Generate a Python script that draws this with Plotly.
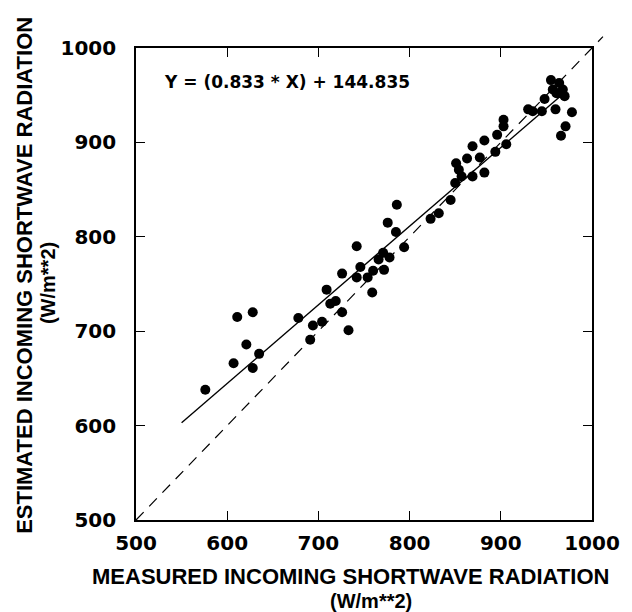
import plotly.graph_objects as go

# Measured (x) vs estimated (y) incoming shortwave radiation, W/m**2
measured = [576, 607, 611, 621, 628, 628, 635, 678, 691, 694, 704, 709, 713, 719,
            726, 726, 733, 742, 742, 746, 754, 759, 760, 766, 771, 772, 778, 776,
            785, 786, 794, 823, 832, 845, 850, 851, 854, 857, 863, 869, 869, 877,
            882, 882, 894, 896, 903, 903, 906, 930, 935, 945, 948, 955, 960, 961,
            964, 968, 970, 971, 966, 978, 963, 957]
estimated = [638, 666, 715, 686, 720, 661, 676, 714, 691, 706, 710, 744, 729, 732,
             720, 761, 701, 790, 757, 768, 757, 741, 764, 776, 783, 765, 778, 815,
             805, 834, 789, 819, 825, 839, 857, 878, 871, 864, 883, 896, 864, 884,
             868, 902, 890, 908, 924, 917, 898, 935, 933, 933, 946, 966, 935, 952,
             963, 956, 949, 917, 907, 932, 952, 956]

slope = 0.833
intercept = 144.835
fit_x = [550, 965]
fit_y = [slope * v + intercept for v in fit_x]

axis_range = [500, 1000]
tick_vals = [500, 600, 700, 800, 900, 1000]
identity_extent = [500, 1012]

fig = go.Figure()
fig.add_trace(go.Scatter(x=fit_x, y=fit_y, mode="lines",
                         line=dict(color="black", width=1.4), showlegend=False))
fig.add_trace(go.Scatter(x=measured, y=estimated, mode="markers",
                         marker=dict(color="black", size=10), showlegend=False))

span = axis_range[1] - axis_range[0]
p0 = (identity_extent[0] - axis_range[0]) / span
p1 = (identity_extent[1] - axis_range[0]) / span
fig.add_shape(type="line", xref="x domain", yref="y domain",
              x0=p0, y0=p0, x1=p1, y1=p1,
              line=dict(color="black", width=1.2, dash="11px,8px"))

axis_common = dict(range=axis_range, tickvals=tick_vals, showgrid=False, zeroline=False,
                   showline=True, linecolor="black", linewidth=1.6, mirror="ticks",
                   ticks="inside", ticklen=9, tickwidth=1.4, tickcolor="black",
                   tickfont=dict(family="DejaVu Sans", size=20, color="black", weight="bold"))

fig.update_layout(
    width=632, height=612,
    margin=dict(l=136, r=29, t=48, b=92),
    paper_bgcolor="white", plot_bgcolor="white",
    xaxis=dict(**axis_common, ticklabelstandoff=4),
    yaxis=dict(**axis_common, ticklabelstandoff=14),
    font=dict(family="Liberation Sans", color="black"),
)

title_font = dict(family="Liberation Sans", size=22, color="black", weight="bold")
sub_font = dict(family="Liberation Sans", size=20, color="black", weight="bold")

fig.add_annotation(text="MEASURED INCOMING SHORTWAVE RADIATION", xref="paper", yref="paper",
                   x=0.471, y=-0.119, xanchor="center", yanchor="middle",
                   showarrow=False, font=title_font)
fig.add_annotation(text="(W/m**2)", xref="paper", yref="paper",
                   x=0.516, y=-0.172, xanchor="center", yanchor="middle",
                   showarrow=False, font=sub_font)
fig.add_annotation(text="ESTIMATED INCOMING SHORTWAVE RADIATION", xref="paper", yref="paper",
                   x=-0.246, y=0.519, xanchor="center", yanchor="middle", textangle=-90,
                   showarrow=False, font=title_font)
fig.add_annotation(text="(W/m**2)", xref="paper", yref="paper",
                   x=-0.193, y=0.502, xanchor="center", yanchor="middle", textangle=-90,
                   showarrow=False, font=sub_font)
fig.add_annotation(text="Y = (0.833 * X) + 144.835", xref="paper", yref="paper",
                   x=0.058, y=0.928, xanchor="left", yanchor="middle",
                   showarrow=False,
                   font=dict(family="DejaVu Sans", size=17, color="black", weight="bold"))

fig.write_html("out.html", config={"displayModeBar": False},
               post_script="document.body.style.margin='0';document.body.style.padding='0';")
